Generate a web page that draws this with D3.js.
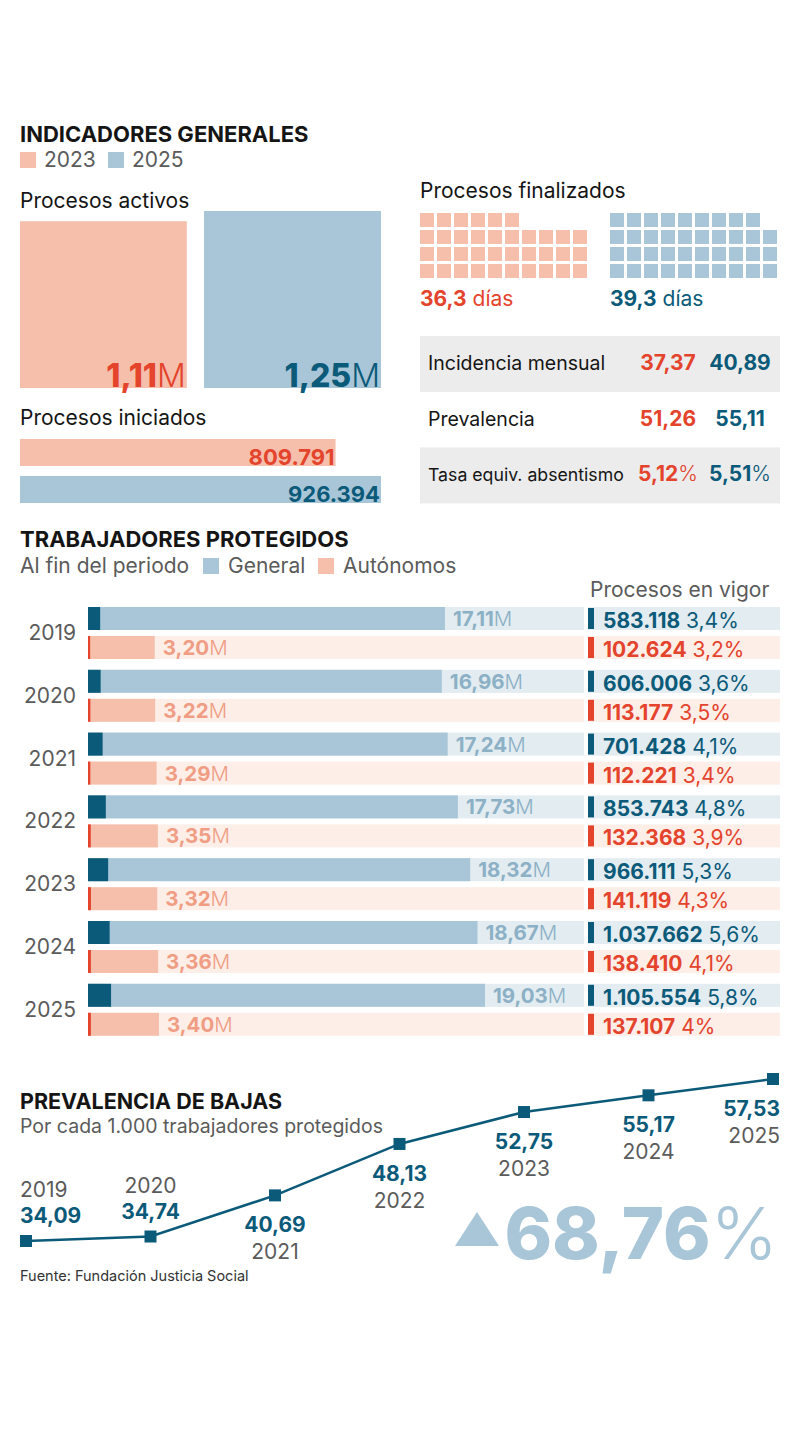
<!DOCTYPE html>
<html><head><meta charset="utf-8">
<script src="https://cdn.jsdelivr.net/npm/d3@7"></script>
<style>
body{margin:0;background:#fff;}
svg{display:block;font-family:Inter,"Noto Sans",sans-serif;}
</style></head>
<body>
<svg id="c" width="800" height="1436"></svg>
<script>
// ---------- DATA ----------
const indicYears = ["2023", "2025"];
const procesosActivos = [1.11, 1.25];            // millones
const procesosIniciados = [809791, 926394];
const diasFinalizados = [36.3, 39.3];
const tablaLabels = ["Incidencia mensual", "Prevalencia", "Tasa equiv. absentismo"];
const tabla2023 = [37.37, 51.26, 5.12];
const tabla2025 = [40.89, 55.11, 5.51];
const tablaEsPct = [false, false, true];

const years = [2019, 2020, 2021, 2022, 2023, 2024, 2025];
const general = [17.11, 16.96, 17.24, 17.73, 18.32, 18.67, 19.03];       // millones
const autonomos = [3.20, 3.22, 3.29, 3.35, 3.32, 3.36, 3.40];           // millones
const vigorGeneral = [583118, 606006, 701428, 853743, 966111, 1037662, 1105554];
const vigorGeneralPct = [3.4, 3.6, 4.1, 4.8, 5.3, 5.6, 5.8];
const vigorAutonomos = [102624, 113177, 112221, 132368, 141119, 138410, 137107];
const vigorAutonomosPct = [3.2, 3.5, 3.4, 3.9, 4.3, 4.1, 4];

const prevalencia = [34.09, 34.74, 40.69, 48.13, 52.75, 55.17, 57.53];
const aumentoPct = 68.76;

// ---------- STYLE ----------
const RED = "#e4432c", TEAL = "#0c5a79", SALMON = "#f5bfac", BLUE = "#a8c6d8";
const GENLBL = "#8cb0c5", AUTLBL = "#f09d84", BGBLUE = "#e2ecf1", BGPINK = "#fdeee8";
const GRAY = "#5b5b5b", DARK = "#151515", TABLEBG = "#ececec";
const yearColor = [RED, TEAL], yearFill = [SALMON, BLUE];

const es = d3.formatLocale({decimal: ",", thousands: ".", grouping: [3], currency: ["", "€"]});
const f2 = es.format(",.2f"), f1 = es.format(",.1f"), fInt = es.format(",d");
const fPct = v => (Number.isInteger(v) ? es.format("d")(v) : f1(v)) + "%";

const svg = d3.select("#c");

function richText(g, x, y, parts, opts) {
  const t = g.append("text").attr("x", x).attr("y", y)
    .attr("font-size", opts.size).attr("text-anchor", opts.anchor || "start");
  parts.forEach(p => t.append("tspan").text(p.t)
    .attr("font-weight", p.w || (p.b ? 700 : 400)).attr("fill", p.c || opts.color));
  return t;
}

// ---------- SECTION 1 ----------
const s1 = svg.append("g");
s1.append("text").attr("x", 20).attr("y", 142).attr("font-size", 22).attr("font-weight", 700)
  .attr("fill", DARK).text("INDICADORES GENERALES");
// legend
let lx = 20;
indicYears.forEach((y, i) => {
  s1.append("rect").attr("x", lx).attr("y", 152).attr("width", 16).attr("height", 16).attr("fill", yearFill[i]);
  s1.append("text").attr("x", lx + 24).attr("y", 167).attr("font-size", 21).attr("fill", GRAY).text(y);
  lx += 88;
});

// Procesos activos - squares by area
s1.append("text").attr("x", 20).attr("y", 208).attr("font-size", 21).attr("fill", DARK).text("Procesos activos");
const side = d3.scaleSqrt().domain([0, d3.max(procesosActivos)]).range([0, 177]);
const sqX = [20, 204], sqBottom = 388;
procesosActivos.forEach((v, i) => {
  const s = side(v);
  s1.append("rect").attr("x", sqX[i]).attr("y", sqBottom - s).attr("width", s).attr("height", s).attr("fill", yearFill[i]);
  richText(s1, sqX[i] + s - 1, sqBottom - 1, [{t: f2(v), w: 800}, {t: "M", w: 300}], {size: 32, anchor: "end", color: yearColor[i]});
});

// Procesos iniciados - bars
s1.append("text").attr("x", 20).attr("y", 425).attr("font-size", 21).attr("fill", DARK).text("Procesos iniciados");
const xIni = d3.scaleLinear().domain([0, d3.max(procesosIniciados)]).range([0, 361]);
procesosIniciados.forEach((v, i) => {
  const y0 = 439 + i * 37;
  s1.append("rect").attr("x", 20).attr("y", y0).attr("width", xIni(v)).attr("height", 27).attr("fill", yearFill[i]);
  s1.append("text").attr("x", 20 + xIni(v) - 1).attr("y", y0 + 26).attr("text-anchor", "end")
    .attr("font-size", 22).attr("font-weight", 700).attr("fill", yearColor[i]).text(fInt(v));
});

// Procesos finalizados - waffles
s1.append("text").attr("x", 420).attr("y", 198).attr("font-size", 21).attr("fill", DARK).text("Procesos finalizados");
const wafX = [420, 610];
diasFinalizados.forEach((d, k) => {
  const n = Math.floor(d);
  const cells = d3.range(n).map(i => ({row: 3 - Math.floor(i / 10), col: i % 10}));
  s1.append("g").selectAll("rect").data(cells).join("rect")
    .attr("x", c => wafX[k] + c.col * 17).attr("y", c => 213 + c.row * 17)
    .attr("width", 14).attr("height", 14).attr("fill", yearFill[k]);
  richText(s1, wafX[k], 306, [{t: f1(d), b: true}, {t: " días"}], {size: 21, color: yearColor[k]});
});

// Table
tablaLabels.forEach((lab, i) => {
  const y0 = 336 + i * 55.7;
  if (i !== 1) s1.append("rect").attr("x", 420).attr("y", y0).attr("width", 360).attr("height", 56).attr("fill", TABLEBG);
  const t = s1.append("text").attr("x", 428).attr("y", y0 + 34).attr("font-size", 19.5).attr("fill", DARK).text(lab);
  const len = t.node().getComputedTextLength();
  if (len > 198) t.attr("font-size", 19.5 * 196 / len);
  [tabla2023[i], tabla2025[i]].forEach((v, j) => {
    const parts = [{t: f2(v), b: true}];
    if (tablaEsPct[i]) parts.push({t: "%", w: 300});
    richText(s1, j === 0 ? 668 : 740, y0 + 34, parts, {size: 21, anchor: "middle", color: yearColor[j]});
  });
});

// ---------- SECTION 2 ----------
const s2 = svg.append("g");
s2.append("text").attr("x", 20).attr("y", 547).attr("font-size", 22).attr("font-weight", 700)
  .attr("fill", DARK).text("TRABAJADORES PROTEGIDOS");
s2.append("text").attr("x", 20).attr("y", 573).attr("font-size", 21).attr("fill", GRAY).text("Al fin del periodo");
[["General", BLUE, 203], ["Autónomos", SALMON, 318]].forEach(([t, c, x]) => {
  s2.append("rect").attr("x", x).attr("y", 558).attr("width", 16).attr("height", 16).attr("fill", c);
  s2.append("text").attr("x", x + 25).attr("y", 573).attr("font-size", 21).attr("fill", GRAY).text(t);
});
s2.append("text").attr("x", 590).attr("y", 597).attr("font-size", 21).attr("fill", GRAY).text("Procesos en vigor");

const xW = d3.scaleLinear().domain([0, 19.03]).range([88, 485]);
const yRow = d3.scaleBand().domain(years).range([607, 607 + 62.8 * 7]).paddingInner(0);
const barH = 23;

years.forEach((yr, i) => {
  const top = yRow(yr);
  const rows = [
    {v: general[i], vig: vigorGeneral[i], pct: vigorGeneralPct[i], y: top, fill: BLUE, dark: TEAL, bg: BGBLUE, lbl: GENLBL, txt: TEAL},
    {v: autonomos[i], vig: vigorAutonomos[i], pct: vigorAutonomosPct[i], y: top + 29, fill: SALMON, dark: RED, bg: BGPINK, lbl: AUTLBL, txt: RED}
  ];
  rows.forEach(r => {
    s2.append("rect").attr("x", xW(0)).attr("y", r.y).attr("width", 780 - xW(0)).attr("height", barH).attr("fill", r.bg);
    s2.append("rect").attr("x", 584).attr("y", r.y).attr("width", 4).attr("height", barH).attr("fill", "#fff");
    s2.append("rect").attr("x", xW(0)).attr("y", r.y).attr("width", xW(r.v) - xW(0)).attr("height", barH).attr("fill", r.fill);
    s2.append("rect").attr("x", xW(0)).attr("y", r.y).attr("width", Math.max(2, xW(r.vig / 1e6) - xW(0))).attr("height", barH).attr("fill", r.dark);
    richText(s2, xW(r.v) + 8, r.y + 19, [{t: f2(r.v), b: true}, {t: "M", w: 300}], {size: 20.5, color: r.lbl});
    s2.append("rect").attr("x", 588).attr("y", r.y + 1).attr("width", 6).attr("height", barH - 2).attr("fill", r.dark);
    richText(s2, 603, r.y + 21, [{t: fInt(r.vig), b: true}, {t: " " + fPct(r.pct)}], {size: 21, color: r.txt});
  });
  s2.append("text").attr("x", 76).attr("y", top + 33).attr("text-anchor", "end")
    .attr("font-size", 21).attr("fill", GRAY).text(yr);
});

// ---------- SECTION 3 ----------
const s3 = svg.append("g");
s3.append("text").attr("x", 20).attr("y", 1109).attr("font-size", 21.5).attr("font-weight", 700)
  .attr("fill", DARK).text("PREVALENCIA DE BAJAS");
s3.append("text").attr("x", 20).attr("y", 1133).attr("font-size", 19.5).attr("fill", GRAY).text("Por cada 1.000 trabajadores protegidos");

const xP = d3.scalePoint().domain(years).range([26, 773]);
const yP = d3.scaleLinear().domain([d3.min(prevalencia), d3.max(prevalencia)]).range([1241, 1079]);
const pts = years.map((y, i) => ({y, v: prevalencia[i]}));
s3.append("path").datum(pts).attr("fill", "none").attr("stroke", TEAL).attr("stroke-width", 2.5)
  .attr("d", d3.line().x(d => xP(d.y)).y(d => yP(d.v)));
s3.selectAll("rect.m").data(pts).join("rect").attr("class", "m")
  .attr("x", d => xP(d.y) - 6).attr("y", d => yP(d.v) - 6).attr("width", 12).attr("height", 12).attr("fill", TEAL);

pts.forEach((d, i) => {
  const px = xP(d.y), py = yP(d.v);
  const anchor = i === 0 ? "start" : (i === pts.length - 1 ? "end" : "middle");
  const lxp = i === 0 ? 20 : (i === pts.length - 1 ? 780 : px);
  let vy, yy;
  if (i < 2) { vy = py - 18; yy = vy - 26; }
  else { vy = py + 37; yy = vy + 27; }
  s3.append("text").attr("x", lxp).attr("y", vy).attr("text-anchor", anchor)
    .attr("font-size", 21).attr("font-weight", 700).attr("fill", TEAL).text(f2(d.v));
  s3.append("text").attr("x", lxp).attr("y", yy).attr("text-anchor", anchor)
    .attr("font-size", 21).attr("fill", GRAY).text(d.y);
});

// big increase
s3.append("path").attr("d", "M455,1246 L477,1212 L499,1246 Z").attr("fill", BLUE);
richText(s3, 778, 1259, [{t: f2(aumentoPct), w: 800}, {t: "%", w: 300}], {size: 72, anchor: "end", color: BLUE});

s3.append("text").attr("x", 20).attr("y", 1281).attr("font-size", 14.5).attr("fill", "#333").text("Fuente: Fundación Justicia Social");
</script>
</body></html>
